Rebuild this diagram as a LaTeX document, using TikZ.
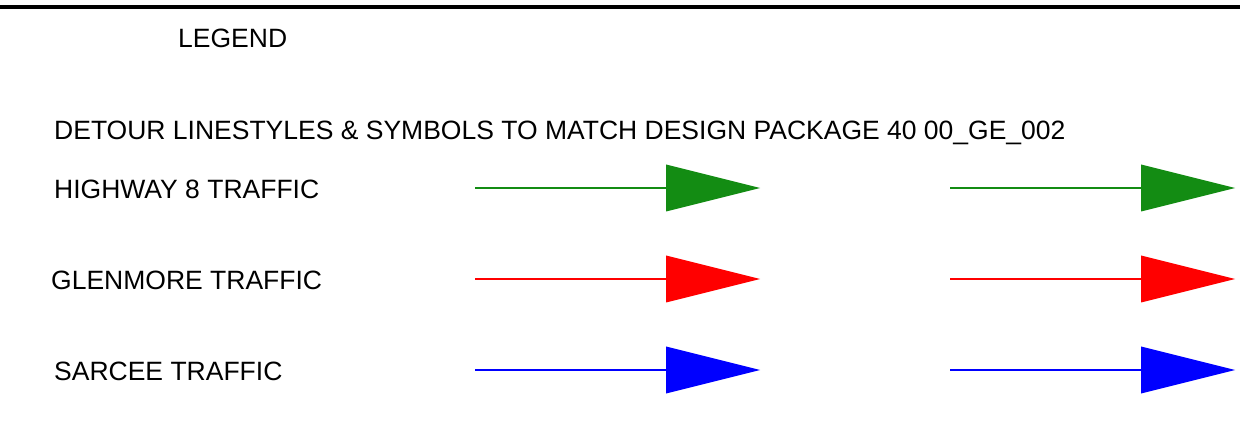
\documentclass[tikz,border=0pt]{standalone}
\usepackage{fontspec}
\setmainfont{Liberation Sans}
\definecolor{hwgreen}{RGB}{19,140,19}
\begin{document}
\begin{tikzpicture}[x=1pt,y=-1pt,
  lbl/.style={anchor=base west,inner sep=0pt,font=\fontsize{26.5}{30}\selectfont},
  shaft/.style={line width=1.4pt}]
\useasboundingbox (0,0) rectangle (1240,446);
\fill[white] (0,0) rectangle (1240,446);
\coordinate (tl) at (0,7);
\coordinate (tr) at (1240,7);
\draw[line width=4pt] (tl) -- (tr);
\node[lbl] (legend) at (178,48) {LEGEND};
\node[lbl] (detour) at (54,140) {DETOUR LINESTYLES \& SYMBOLS TO MATCH DESIGN PACKAGE 40 00\_GE\_002};
\node[lbl] (hw) at (54,199) {HIGHWAY 8 TRAFFIC};
\node[lbl] (gl) at (51,290) {GLENMORE TRAFFIC};
\node[lbl] (sa) at (54,381) {SARCEE TRAFFIC};
\foreach \row/\y/\c in {a/188/hwgreen, b/279/red, c/370/blue}{
  \foreach \col/\x in {l/475, r/950}{
    \coordinate (s\row\col) at (\x,\y);
    \coordinate (b\row\col) at (\x+191,\y);
    \coordinate (t\row\col) at (\x+285,\y);
    \draw[shaft,\c] (s\row\col) -- (b\row\col);
    \fill[\c] ([yshift=-23.5]b\row\col) -- (t\row\col) -- ([yshift=23.5]b\row\col) -- cycle;
  }
}
\end{tikzpicture}
\end{document}
